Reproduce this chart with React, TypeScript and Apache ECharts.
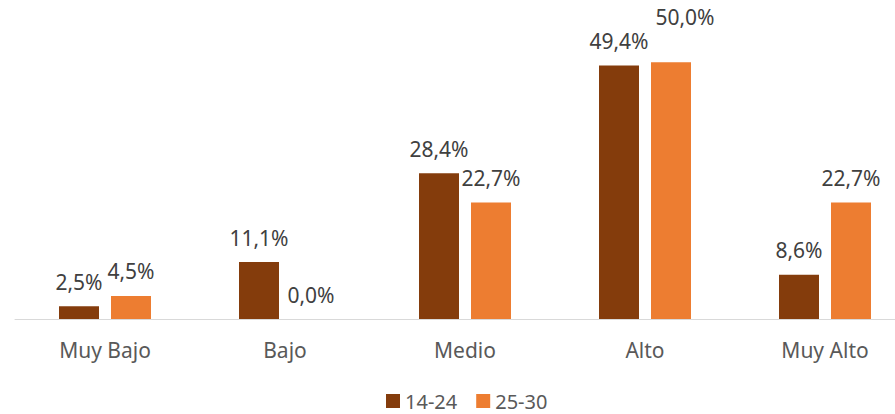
import React, { useEffect, useRef } from "react";
import * as echarts from "echarts";

const categories = ["Muy Bajo", "Bajo", "Medio", "Alto", "Muy Alto"];
const seriesNames = ["14-24", "25-30"];
const values1424 = [2.5, 11.1, 28.4, 49.4, 8.6];
const values2530 = [4.5, 0.0, 22.7, 50.0, 22.7];
const colors = ["#843C0C", "#ED7D31"];

const fmt = (v: number) => v.toFixed(1).replace(".", ",") + "%";

export default function App() {
  const ref = useRef<HTMLDivElement>(null);
  useEffect(() => {
    if (!ref.current) return;
    const chart = echarts.init(ref.current, null, { renderer: "svg" });
    const font = "'Noto Sans', sans-serif";
    const labelBase = {
      show: true,
      position: "top",
      distance: 14,
      fontSize: 21,
      fontFamily: font,
      color: "#404040",
      formatter: (p: any) => fmt(p.value),
    };
    const mk = (name: string, data: any[], color: string) => ({
      name,
      type: "bar",
      data,
      barWidth: 40,
      barGap: "30%",
      itemStyle: { color },
      label: labelBase,
    });
    const data2530 = values2530.map((v, i) =>
      i === 3 ? { value: v, label: { offset: [14, -21] } } : v
    );
    chart.setOption({
      animation: false,
      grid: { left: 15, right: 0, top: 11, bottom: 95, containLabel: false },
      legend: {
        data: seriesNames,
        left: 386,
        top: 391,
        padding: 0,
        itemWidth: 14,
        itemHeight: 14,
        itemGap: 19,
        icon: "rect",
        textStyle: { fontSize: 20, lineHeight: 20, fontFamily: font, color: "#595959" },
      },
      xAxis: {
        type: "category",
        data: categories,
        axisLine: { lineStyle: { color: "#D9D9D9", width: 1 } },
        axisTick: { show: false },
        axisLabel: { fontSize: 21, fontFamily: font, color: "#595959", margin: 20 },
      },
      yAxis: {
        type: "value",
        min: 0,
        max: 60,
        show: false,
        splitLine: { show: false },
      },
      series: [
        mk(seriesNames[0], values1424, colors[0]),
        mk(seriesNames[1], data2530, colors[1]),
      ],
    });
    return () => chart.dispose();
  }, []);
  return (
    <div style={{ position: "fixed", left: 0, top: 0, width: 895, height: 414, overflow: "hidden", background: "#fff" }}>
      <div ref={ref} style={{ width: 915, height: 414 }} />
    </div>
  );
}
